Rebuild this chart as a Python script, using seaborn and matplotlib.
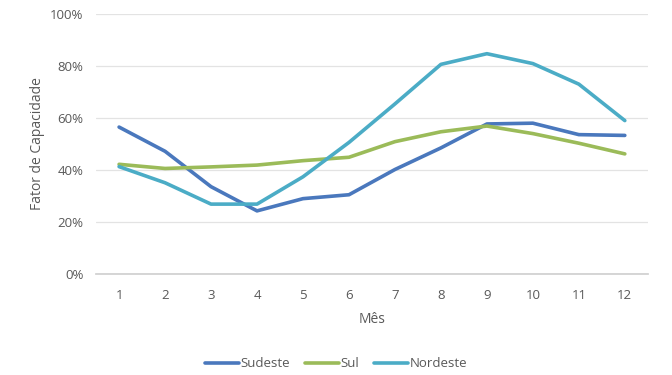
import numpy as np
import pandas as pd
import matplotlib
matplotlib.use("Agg")
import matplotlib.pyplot as plt
import seaborn as sns
from matplotlib.ticker import PercentFormatter

meses = list(range(1, 13))
sudeste = [56.5, 47.2, 33.6, 24.3, 29.0, 30.5, 40.2, 48.5, 57.7, 58.0, 53.6, 53.3]
sul = [42.2, 40.6, 41.2, 41.9, 43.6, 44.9, 50.9, 54.7, 56.9, 54.0, 50.3, 46.2]
nordeste = [41.3, 35.1, 26.9, 26.9, 37.4, 50.6, 65.4, 80.6, 84.7, 80.9, 73.0, 59.0]
series = ["Sudeste", "Sul", "Nordeste"]
cores = ["#4A78BD", "#9BBB59", "#4BACC6"]

df = pd.DataFrame({
    "Mês": meses * 3,
    "valor": sudeste + sul + nordeste,
    "serie": [s for s in series for _ in meses],
})

sns.set_theme(style="white")
plt.rcParams["font.family"] = ["Open Sans", "DejaVu Sans"]

fig = plt.figure(figsize=(6.72, 3.75), dpi=100)
ax = fig.add_axes([0.143, 0.269, 0.821, 0.694])

sns.lineplot(data=df, x="Mês", y="valor", hue="serie", hue_order=series,
             palette=cores, linewidth=2.6, ax=ax, legend=False)

ax.set_ylim(0, 100)
ax.set_xlim(0.5, 12.5)
ax.set_xticks(meses)
ax.set_yticks(range(0, 101, 20))
ax.yaxis.set_major_formatter(PercentFormatter(decimals=0))
ax.grid(axis="y", color="#e3e3e3", linewidth=0.9)
ax.set_axisbelow(True)
for side in ["top", "right", "left"]:
    ax.spines[side].set_visible(False)
ax.spines["bottom"].set_color("#d0d0d0")
ax.tick_params(axis="both", colors="#595959", labelsize=9.5, length=0)
ax.tick_params(axis="x", pad=11)
ax.tick_params(axis="y", pad=9)
ax.set_xlabel("Mês", color="#595959", fontsize=10, labelpad=7)
ax.set_ylabel("Fator de Capacidade", color="#595959", fontsize=10, labelpad=4)

handles = [plt.Line2D([], [], color=c, linewidth=2.6) for c in cores]
fig.legend(handles, series, loc="center", bbox_to_anchor=(0.5, 0.03), ncol=3,
           frameon=False, fontsize=9.5, labelcolor="#595959",
           handlelength=2.6, handletextpad=0.1, columnspacing=1.1)

fig.savefig("out.png", dpi=100)
